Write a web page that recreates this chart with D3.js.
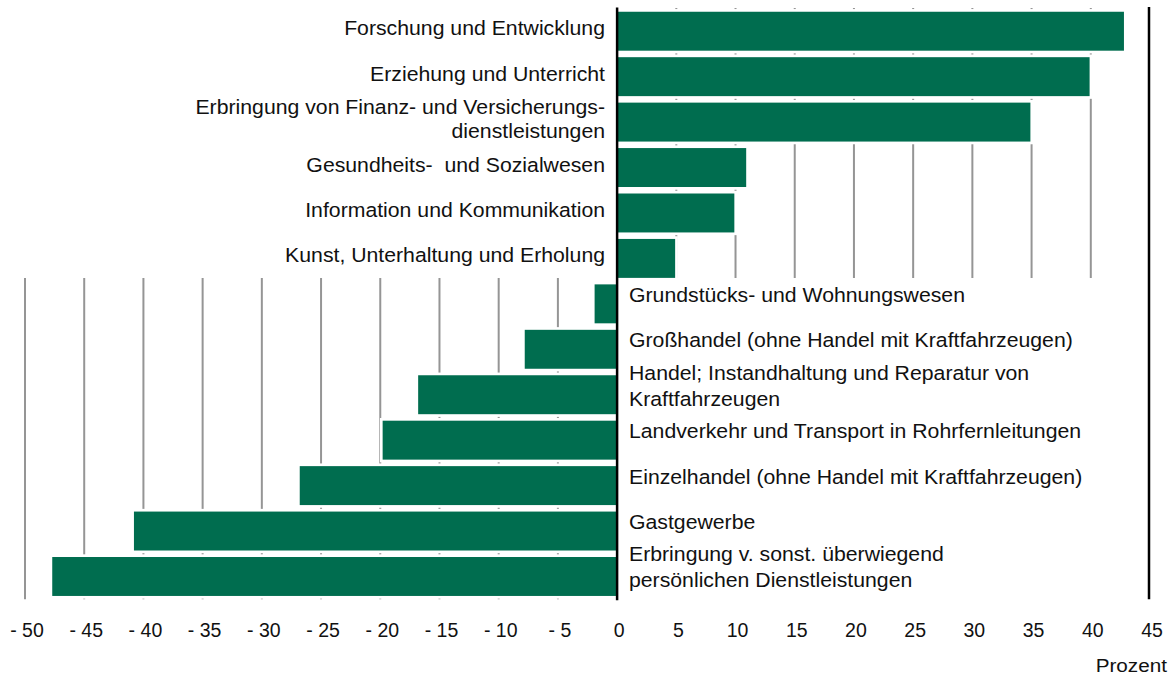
<!DOCTYPE html>
<html><head><meta charset="utf-8">
<script src="https://cdn.jsdelivr.net/npm/d3@7"></script>
<style>
body{margin:0;background:#fff}
text{font-family:"Liberation Sans",Arial,sans-serif;fill:#111;white-space:pre}
</style>
</head><body>
<svg id="c" width="1174" height="676"></svg>
<script>
const categories = [
  "Forschung und Entwicklung",
  "Erziehung und Unterricht",
  "Erbringung von Finanz- und Versicherungs-\ndienstleistungen",
  "Gesundheits-  und Sozialwesen",
  "Information und Kommunikation",
  "Kunst, Unterhaltung und Erholung",
  "Grundstücks- und Wohnungswesen",
  "Großhandel (ohne Handel mit Kraftfahrzeugen)",
  "Handel; Instandhaltung und Reparatur von\nKraftfahrzeugen",
  "Landverkehr und Transport in Rohrfernleitungen",
  "Einzelhandel (ohne Handel mit Kraftfahrzeugen)",
  "Gastgewerbe",
  "Erbringung v. sonst. überwiegend\npersönlichen Dienstleistungen"
];
const values = [42.8, 39.9, 34.9, 10.9, 9.9, 4.9, -1.9, -7.8, -16.8, -19.8, -26.8, -40.8, -47.7];
const tickValues = [-50, -45, -40, -35, -30, -25, -20, -15, -10, -5, 0, 5, 10, 15, 20, 25, 30, 35, 40, 45];
const tickLabels = ["- 50", "- 45", "- 40", "- 35", "- 30", "- 25", "- 20", "- 15", "- 10", "- 5", "0", "5", "10", "15", "20", "25", "30", "35", "40", "45"];
const gridPositive = [5, 10, 15, 20, 25, 30, 35, 40];
const gridNegative = [-5, -10, -15, -20, -25, -30, -35, -40, -45, -50];
const axisTitle = "Prozent";

const svg = d3.select("#c");
const x = d3.scaleLinear().domain([-50, 45]).range([25, 1150]);
const y = d3.scaleBand().domain(categories).range([8.5, 599.2]).paddingInner(0.143).paddingOuter(0.0715);

const BAR = "#006d4f", GRID = "#959595";
const splitY = y(categories[5]) + y.bandwidth();
const topY = y.range()[0] - 0.5, bottomY = y.range()[1];

// gridlines
svg.append("g").selectAll("line").data(gridPositive).join("line")
  .attr("x1", d => x(d)).attr("x2", d => x(d))
  .attr("y1", topY).attr("y2", splitY)
  .attr("stroke", GRID).attr("stroke-width", 2);
svg.append("g").selectAll("line").data(gridNegative).join("line")
  .attr("x1", d => x(d)).attr("x2", d => x(d))
  .attr("y1", splitY).attr("y2", bottomY)
  .attr("stroke", GRID).attr("stroke-width", 2);

const pad = 2.7;
// white backing
svg.append("g").selectAll("rect").data(categories).join("rect")
  .attr("x", (d, i) => Math.min(x(0), x(values[i])) - pad)
  .attr("width", (d, i) => Math.abs(x(values[i]) - x(0)) + 2 * pad)
  .attr("y", d => y(d) - pad)
  .attr("height", y.bandwidth() + 2 * pad)
  .attr("fill", "#fff");
// bars
svg.append("g").selectAll("rect").data(categories).join("rect")
  .attr("x", (d, i) => Math.min(x(0), x(values[i])))
  .attr("width", (d, i) => Math.abs(x(values[i]) - x(0)))
  .attr("y", d => y(d))
  .attr("height", y.bandwidth())
  .attr("fill", BAR);

// zero line and right border
svg.append("line").attr("x1", x(0)).attr("x2", x(0)).attr("y1", topY - 0.5).attr("y2", bottomY + 1)
  .attr("stroke", "#000").attr("stroke-width", 2.5);
svg.append("line").attr("x1", x(45) - 1).attr("x2", x(45) - 1).attr("y1", topY - 1).attr("y2", bottomY)
  .attr("stroke", "#000").attr("stroke-width", 2.5);

// category labels
const FS = 19.5, SX = 1.09;
categories.forEach((c, i) => {
  const lines = c.split("\n");
  const pos = values[i] >= 0;
  const cy = y(c) + y.bandwidth() / 2 + (pos ? -3 : -9);
  const lh = pos ? 24.5 : 26;
  lines.forEach((t, j) => {
    const by = cy + 0.358 * FS + (j - (lines.length - 1) / 2) * lh;
    svg.append("text")
      .attr("transform", `translate(${pos ? 605 : 629},${by}) scale(${SX},1)`)
      .attr("text-anchor", pos ? "end" : "start")
      .style("font-size", FS + "px")
      .text(t);
  });
});

// x axis
const axis = d3.axisBottom(x).tickValues(tickValues)
  .tickFormat((d, i) => tickLabels[i]).tickSizeInner(0).tickSizeOuter(0).tickPadding(4);
const ag = svg.append("g").attr("transform", "translate(1.5,619.5)").call(axis);
ag.select(".domain").remove();
ag.selectAll("text").attr("font-family", null).style("font-size", "19.5px").attr("fill", "#111");

svg.append("text")
  .attr("transform", `translate(1167,671.5) scale(${SX},1)`)
  .attr("text-anchor", "end").style("font-size", "19px")
  .text(axisTitle);
</script>
</body></html>
